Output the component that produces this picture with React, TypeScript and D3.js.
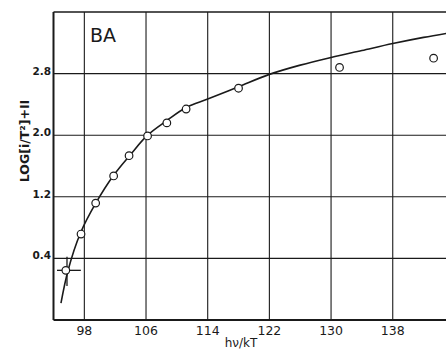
import { useEffect, useRef } from 'react';
import * as d3 from 'd3';

// measured points (hν/kT, log[i/T²]+11)
const pointX = [95.6, 97.57, 99.47, 101.8, 103.8, 106.2, 108.7, 111.2, 118.0, 131.1, 143.3];
const pointY = [0.245, 0.716, 1.118, 1.471, 1.734, 1.99, 2.16, 2.34, 2.61, 2.88, 3.0];

// fitted curve
const curveX = [94.97, 95.9, 97.5, 99.5, 101.8, 104, 106.2, 108.7, 111.2, 114, 118, 122, 126, 130, 134, 138, 142, 146];
const curveY = [-0.18, 0.25, 0.73, 1.12, 1.48, 1.75, 2.0, 2.19, 2.36, 2.47, 2.63, 2.79, 2.91, 3.01, 3.1, 3.19, 3.27, 3.34];

const xTicks = [98, 106, 114, 122, 130, 138];
const yTicks = [0.4, 1.2, 2.0, 2.8];

// error bar on the first point
const errX = [94.45, 97.55];
const errY = [0.42, 0.04];

export default function App() {
  const svgRef = useRef<SVGSVGElement>(null);

  useEffect(() => {
    if (!svgRef.current) return;
    const svg = d3.select(svgRef.current);
    svg.selectAll('*').remove();

    const left = 53.5;
    const top = 12;
    const bottom = 320;
    const x = d3.scaleLinear().domain([94, 146]).range([left, left + 52 * 7.71]);
    const y = d3.scaleLinear().domain([-0.4, 3.6]).range([bottom, top]);
    const ink = '#1a1a1a';

    svg.append('rect').attr('width', 446).attr('height', 350).attr('fill', '#fff');

    const g = svg.append('g');

    g.selectAll('line.vg')
      .data(xTicks)
      .join('line')
      .attr('x1', (d) => x(d))
      .attr('x2', (d) => x(d))
      .attr('y1', top)
      .attr('y2', bottom)
      .attr('stroke', ink)
      .attr('stroke-width', 1.1);

    g.selectAll('line.hg')
      .data(yTicks)
      .join('line')
      .attr('x1', left)
      .attr('x2', 446)
      .attr('y1', (d) => y(d))
      .attr('y2', (d) => y(d))
      .attr('stroke', ink)
      .attr('stroke-width', 1.1);

    // frame
    g.append('line').attr('x1', left).attr('x2', 446).attr('y1', top).attr('y2', top)
      .attr('stroke', ink).attr('stroke-width', 1.6);
    g.append('line').attr('x1', left).attr('x2', 446).attr('y1', bottom).attr('y2', bottom)
      .attr('stroke', ink).attr('stroke-width', 2);
    g.append('line').attr('x1', left).attr('x2', left).attr('y1', top).attr('y2', bottom)
      .attr('stroke', ink).attr('stroke-width', 2);

    const line = d3
      .line<number>()
      .x((d, i) => x(curveX[i]))
      .y((d) => y(d))
      .curve(d3.curveCatmullRom);
    g.append('path')
      .attr('d', line(curveY))
      .attr('fill', 'none')
      .attr('stroke', ink)
      .attr('stroke-width', 1.6);

    // error cross
    g.append('line')
      .attr('x1', x(errX[0])).attr('x2', x(errX[1]))
      .attr('y1', y(pointY[0])).attr('y2', y(pointY[0]))
      .attr('stroke', ink).attr('stroke-width', 1.3);
    g.append('line')
      .attr('x1', x(pointX[0] + 0.15)).attr('x2', x(pointX[0] + 0.15))
      .attr('y1', y(errY[0])).attr('y2', y(errY[1]))
      .attr('stroke', ink).attr('stroke-width', 1.3);

    g.selectAll('circle')
      .data(pointX)
      .join('circle')
      .attr('cx', (d) => x(d))
      .attr('cy', (d, i) => y(pointY[i]))
      .attr('r', 3.8)
      .attr('fill', '#fff')
      .attr('stroke', ink)
      .attr('stroke-width', 1.2);

    g.selectAll('text.xt')
      .data(xTicks)
      .join('text')
      .attr('x', (d) => x(d))
      .attr('y', 335)
      .attr('text-anchor', 'middle')
      .attr('font-family', 'DejaVu Sans, sans-serif')
      .attr('font-size', 12.5)
      .attr('fill', ink)
      .text((d) => d);

    g.selectAll('text.yt')
      .data(yTicks)
      .join('text')
      .attr('x', 51)
      .attr('y', (d) => y(d) + 1)
      .attr('text-anchor', 'end')
      .attr('font-family', 'DejaVu Sans, sans-serif')
      .attr('font-weight', 'bold')
      .attr('font-size', 10.5)
      .attr('fill', ink)
      .text((d) => d.toFixed(1));

    g.append('text')
      .attr('x', 90)
      .attr('y', 41.5)
      .attr('font-family', 'DejaVu Sans, sans-serif')
      .attr('font-size', 19)
      .attr('fill', ink)
      .text('BA');

    g.append('text')
      .attr('transform', 'translate(29,141) rotate(-90)')
      .attr('text-anchor', 'middle')
      .attr('font-family', 'DejaVu Sans, sans-serif')
      .attr('font-weight', 'bold')
      .attr('font-size', 12.5)
      .attr('fill', ink)
      .text('LOG[i/T²]+II');

    g.append('text')
      .attr('x', 241)
      .attr('y', 346.5)
      .attr('text-anchor', 'middle')
      .attr('font-family', 'DejaVu Sans, sans-serif')
      .attr('font-size', 12)
      .attr('fill', ink)
      .text('hν/kT');
  }, []);

  return (
    <div style={{ position: 'fixed', left: 0, top: 0 }}>
      <svg ref={svgRef} width={446} height={350} style={{ display: 'block' }} />
    </div>
  );
}
